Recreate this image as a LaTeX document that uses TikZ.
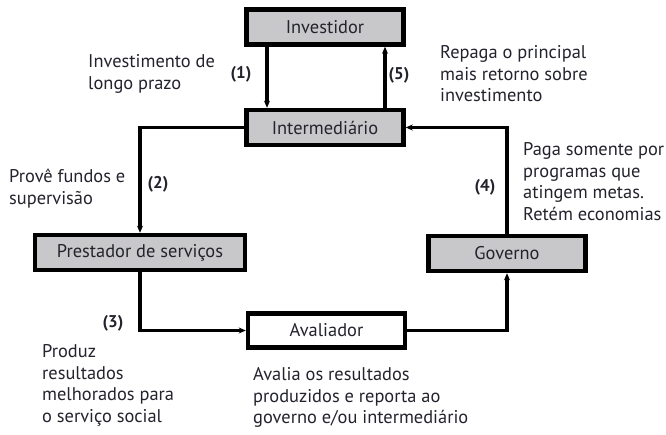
\documentclass[tikz,border=0pt]{standalone}
\usepackage{fontspec}
\setmainfont{PT Sans}
\usetikzlibrary{arrows.meta}
\definecolor{box_gray}{RGB}{200, 200, 202}
\definecolor{ink}{RGB}{35, 35, 45}

\begin{document}
\begin{tikzpicture}[x=1pt, y=-1pt, font=\fontsize{18.4}{21.8}\selectfont, text=ink,
    actor/.style={draw=black, line width=4.5pt, fill=box_gray, minimum width=157pt,
      minimum height=35pt, inner sep=0pt},
    flow/.style={line width=3.4pt, -{Stealth[length=7pt, width=6pt]}},
    note/.style={anchor=north west, align=left, inner sep=0pt},
    step_no/.style={font=\fontsize{17}{19}\selectfont\bfseries}]

    \useasboundingbox (0,0) rectangle (666,435);

    % Actors
    \node[actor] (inv) at (325,27) {Investidor};
    \node[actor] (inter) at (325,127.5) {Intermediário};
    \node[actor, minimum width=210pt] (prest) at (140,252.5) {Prestador de serviços};
    \node[actor] (gov) at (507,253.5) {Governo};
    \node[actor, fill=white, minimum height=34pt] (aval) at (326.5,330.5) {Avaliador};

    % Flows
    \draw[flow] ([xshift=-58pt]inv.south) -- ([xshift=-58pt]inter.north);
    \draw[flow] ([xshift=60pt]inter.north) -- ([xshift=60pt]inv.south);
    \draw[flow] (inter.west) -| (prest.north);
    \draw[flow] (prest.south) |- (aval.west);
    \draw[flow] (aval.east) -| (gov.south);
    \draw[flow] (gov.north) |- (inter.east);

    % Step numbers
    \node[step_no] (s1) at (241,74) {(1)};
    \node[step_no] (s5) at (399,75) {(5)};
    \node[step_no] (s2) at (158,184) {(2)};
    \node[step_no] (s4) at (485,187) {(4)};
    \node[step_no] (s3) at (113,323) {(3)};

    % Notes
    \node[note] (n1) at (88,54) {Investimento de\\longo prazo};
    \node[note] (n5) at (440,45) {Repaga o principal\\mais retorno sobre\\investimento};
    \node[note] (n2) at (9,169) {Provê fundos e\\supervisão};
    \node[note] (n4) at (523,142) {Paga somente por\\programas que\\atingem metas.\\Retém economias};
    \node[note] (n3) at (42,344) {Produz\\resultados\\melhorados para\\o serviço social};
    \node[note] (n6) at (253,367) {Avalia os resultados\\produzidos e reporta ao\\governo e/ou intermediário};

  \end{tikzpicture}
\end{document}
